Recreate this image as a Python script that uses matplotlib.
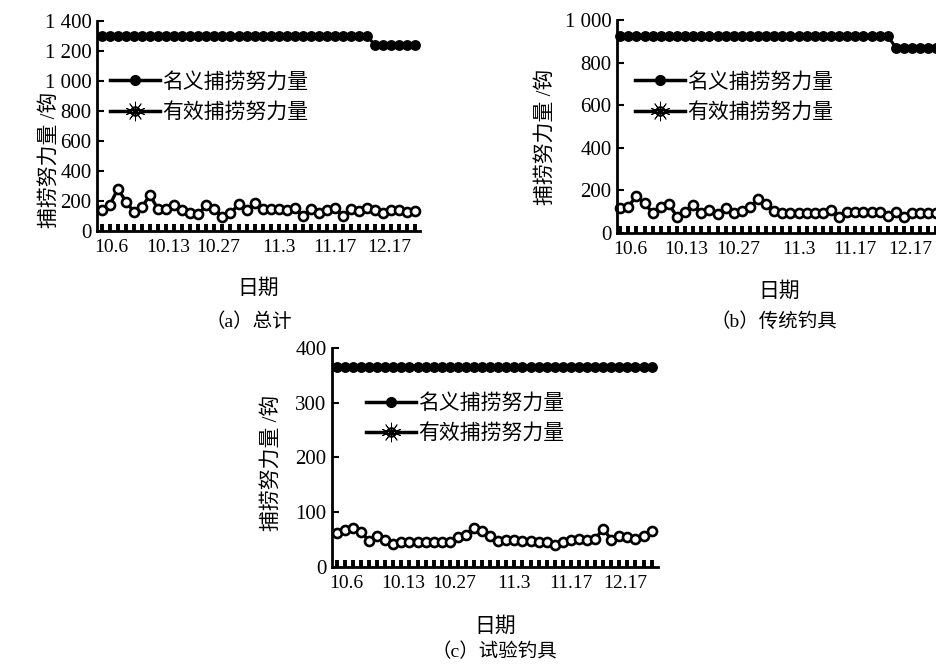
import numpy as np
import matplotlib.pyplot as plt
from matplotlib.lines import Line2D
from matplotlib.legend_handler import HandlerTuple

plt.rcParams['font.family'] = ['Liberation Serif', 'Noto Sans CJK SC']
plt.rcParams['axes.unicode_minus'] = False

# x tick labels (category axis) and where they sit along the 40 sample points
date_labels = ['10.6', '10.13', '10.27', '11.3', '11.17', '12.17']
label_pos = [1.2, 8.2, 14.5, 22, 29, 35.8]

# (a) total
nominal_a = [1300] * 34 + [1240] * 6
effective_a = [140, 173, 284, 196, 129, 162, 240, 144, 144, 173,
               140, 122, 111, 173, 144, 96, 118, 178, 140, 184,
               144, 144, 144, 140, 151, 100, 144, 122, 140, 151,
               100, 144, 136, 151, 140, 122, 140, 140, 124, 136]

# (b) traditional hooks
nominal_b = [925] * 34 + [870] * 6
effective_b = [116, 124, 174, 139, 95, 124, 135, 77, 100, 131,
               95, 108, 89, 116, 95, 105, 124, 158, 135, 103,
               95, 95, 95, 95, 95, 95, 108, 74, 100, 100,
               100, 100, 100, 80, 100, 74, 92, 92, 92, 92]

# (c) experimental hooks
nominal_c = [365] * 40
effective_c = [62, 68, 71, 64, 48, 57, 50, 42, 46, 46,
               46, 46, 46, 46, 46, 54, 59, 72, 65, 56,
               48, 50, 50, 48, 48, 46, 45, 40, 46, 50,
               51, 50, 51, 70, 50, 57, 54, 51, 56, 65]

yticks_a = [0, 200, 400, 600, 800, 1000, 1200, 1400]
ylabels_a = ['0', '200', '400', '600', '800', '1 000', '1 200', '1 400']
yticks_b = [0, 200, 400, 600, 800, 1000]
ylabels_b = ['0', '200', '400', '600', '800', '1 000']
yticks_c = [0, 100, 200, 300, 400]
ylabels_c = ['0', '100', '200', '300', '400']

ylab = '捕捞努力量 /钩'
name_nom = '名义捕捞努力量'
name_eff = '有效捕捞努力量'

fig = plt.figure(figsize=(9.37, 6.64), dpi=100)


def draw_panel(rect, nominal, effective, yticks, ylabels, ylim, xlim,
               ylab_xy, leg_anchor, caption, cap_xy):
    ax = fig.add_axes(rect)
    x = np.arange(len(nominal))
    ax.plot(x, nominal, color='black', lw=2.2, marker='o', ms=6.8,
            mfc='black', mec='black', clip_on=False)
    ax.plot(x, effective, color='black', lw=2.4, marker='o', ms=6.5,
            mfc='white', mec='black', mew=1.9, clip_on=False)

    ax.set_xlim(*xlim)
    ax.set_ylim(*ylim)
    ax.spines['top'].set_visible(False)
    ax.spines['right'].set_visible(False)
    ax.spines['left'].set_linewidth(2)
    ax.spines['bottom'].set_linewidth(2)

    ax.set_yticks(yticks)
    ax.set_yticklabels(ylabels, fontsize=15)
    ax.tick_params(axis='y', direction='in', length=5, width=1.5, pad=4)

    # labels sit on major ticks, the small marks are minor ticks at every point
    ax.xaxis.remove_overlapping_locs = False
    ax.set_xticks(label_pos)
    ax.set_xticklabels(date_labels, fontsize=14)
    ax.set_xticks(x, minor=True)
    ax.tick_params(axis='x', which='major', length=0, pad=6)
    ax.tick_params(axis='x', which='minor', direction='in', length=5, width=2.8)

    ax.set_ylabel(ylab, fontsize=15)
    ax.yaxis.set_label_coords(*ylab_xy)
    ax.set_xlabel('日期', fontsize=15)
    ax.xaxis.set_label_coords(0.5, -0.23)

    h_nom = Line2D([], [], color='black', lw=2.5, marker='o', ms=7, mfc='black')
    h_eff = Line2D([], [], color='black', lw=2.5, marker='o', ms=6,
                   mfc='white', mew=1.6)
    h_star = Line2D([], [], color='none', marker=(10, 2, 0), ms=14,
                    mec='black', mew=0.6)
    ax.legend([h_nom, (h_eff, h_star)], [name_nom, name_eff],
              handler_map={tuple: HandlerTuple(ndivide=1)},
              loc='upper left', bbox_to_anchor=leg_anchor, frameon=False,
              fontsize=15, handlelength=2.4, handletextpad=0.1,
              labelspacing=0.5, borderpad=0, borderaxespad=0)

    fig.text(cap_xy[0], cap_xy[1], caption, fontsize=14, ha='center', va='center')
    return ax


draw_panel([0.1035, 0.652, 0.345, 0.316], nominal_a, effective_a,
           yticks_a, ylabels_a, (0, 1400), (-0.6, 39.6),
           (-0.116, 0.34), (0.04, 0.755), '（a）总计', (0.266, 0.515))
draw_panel([0.6585, 0.649, 0.346, 0.321], nominal_b, effective_b,
           yticks_b, ylabels_b, (0, 1000), (-0.4, 39.6),
           (-0.19, 0.45), (0.055, 0.752), '（b）传统钓具', (0.826, 0.515))
draw_panel([0.3543, 0.146, 0.348, 0.33], nominal_c, effective_c,
           yticks_c, ylabels_c, (0, 400), (-0.6, 39.8),
           (-0.153, 0.475), (0.105, 0.79), '（c）试验钓具', (0.528, 0.018))

fig.savefig('out.png', dpi=100)
